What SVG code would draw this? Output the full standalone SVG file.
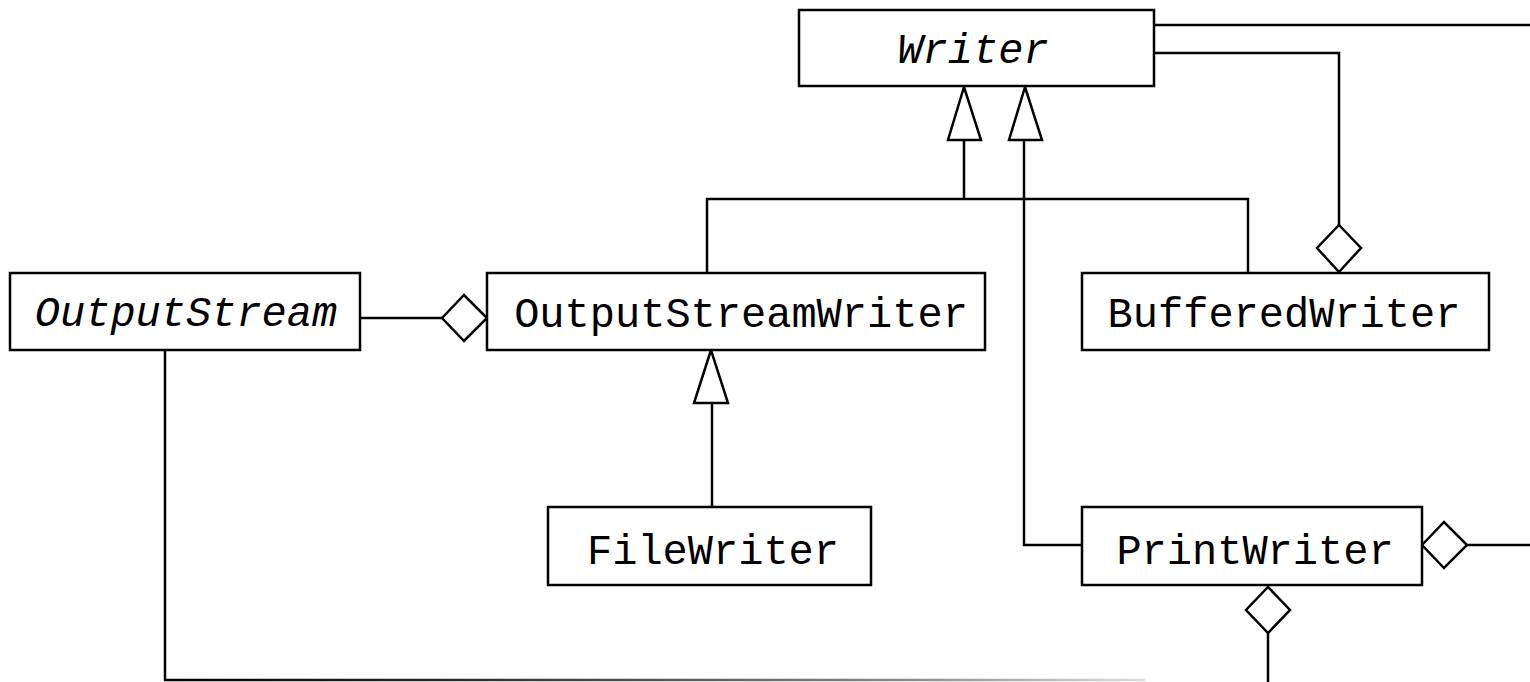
<svg xmlns="http://www.w3.org/2000/svg" width="1530" height="682" viewBox="0 0 1530 682">
<style>
.box{fill:#fff;stroke:#000;stroke-width:2.5}
.lbl{font-family:"Liberation Mono","Courier New",monospace;font-size:42px;fill:#000;text-anchor:middle}
.it{font-style:italic}
.ln{fill:none;stroke:#000;stroke-width:2.5}
.tri{fill:#fff;stroke:#000;stroke-width:2.5;stroke-linejoin:miter}
.dia{fill:#fff;stroke:#000;stroke-width:2.5}
</style>
<defs>
<linearGradient id="fade" gradientUnits="userSpaceOnUse" x1="165" y1="0" x2="1145" y2="0">
<stop offset="0" stop-color="#000"/>
<stop offset="0.25" stop-color="#222"/>
<stop offset="0.75" stop-color="#888"/>
<stop offset="1" stop-color="#ddd"/>
</linearGradient>
</defs>
<rect width="1530" height="682" fill="#fff"/>
<g id="connectors">
<polyline class="ln" points="964,140 964,199"/>
<polyline class="ln" points="707,273 707,199 1248,199 1248,273"/>
<polyline class="ln" points="1024,140 1024,545 1082,545"/>
<polygon class="tri" points="964,87 948,140 981,140"/>
<polygon class="tri" points="1025,87 1009,140 1042,140"/>
<polyline class="ln" points="712,403 712,507"/>
<polygon class="tri" points="711,350 694,403 728,403"/>
<polyline class="ln" points="1154,25 1530,25"/>
<polyline class="ln" points="1154,53 1339,53 1339,225"/>
<polygon class="dia" points="1339,225 1361,248 1339,272 1317,248"/>
<polyline class="ln" points="360,318 442,318"/>
<polygon class="dia" points="442,318 464,295 487,318 464,341"/>
<polyline class="ln" points="1467,545 1530,545"/>
<polygon class="dia" points="1422,545 1444,522 1467,545 1444,568"/>
<polyline class="ln" points="1268,633 1268,682"/>
<polygon class="dia" points="1268,587 1290,610 1268,633 1246,610"/>
<polyline class="ln" points="165,350 165,680"/>
<line x1="164" y1="680" x2="1145" y2="680" stroke="url(#fade)" stroke-width="2.5"/>
</g>
<g id="Writer">
<rect class="box" x="799" y="10" width="355" height="76"/>
<text class="lbl it" x="973" y="63">Writer</text>
</g>
<g id="OutputStream">
<rect class="box" x="10" y="273" width="350" height="77"/>
<text class="lbl it" x="186" y="326">OutputStream</text>
</g>
<g id="OutputStreamWriter">
<rect class="box" x="487" y="273" width="498" height="77"/>
<text class="lbl" x="741" y="327">OutputStreamWriter</text>
</g>
<g id="BufferedWriter">
<rect class="box" x="1082" y="273" width="407" height="77"/>
<text class="lbl" x="1284" y="327">BufferedWriter</text>
</g>
<g id="FileWriter">
<rect class="box" x="548" y="507" width="323" height="78"/>
<text class="lbl" x="713" y="564">FileWriter</text>
</g>
<g id="PrintWriter">
<rect class="box" x="1082" y="507" width="340" height="78"/>
<text class="lbl" x="1255" y="564">PrintWriter</text>
</g>
</svg>
